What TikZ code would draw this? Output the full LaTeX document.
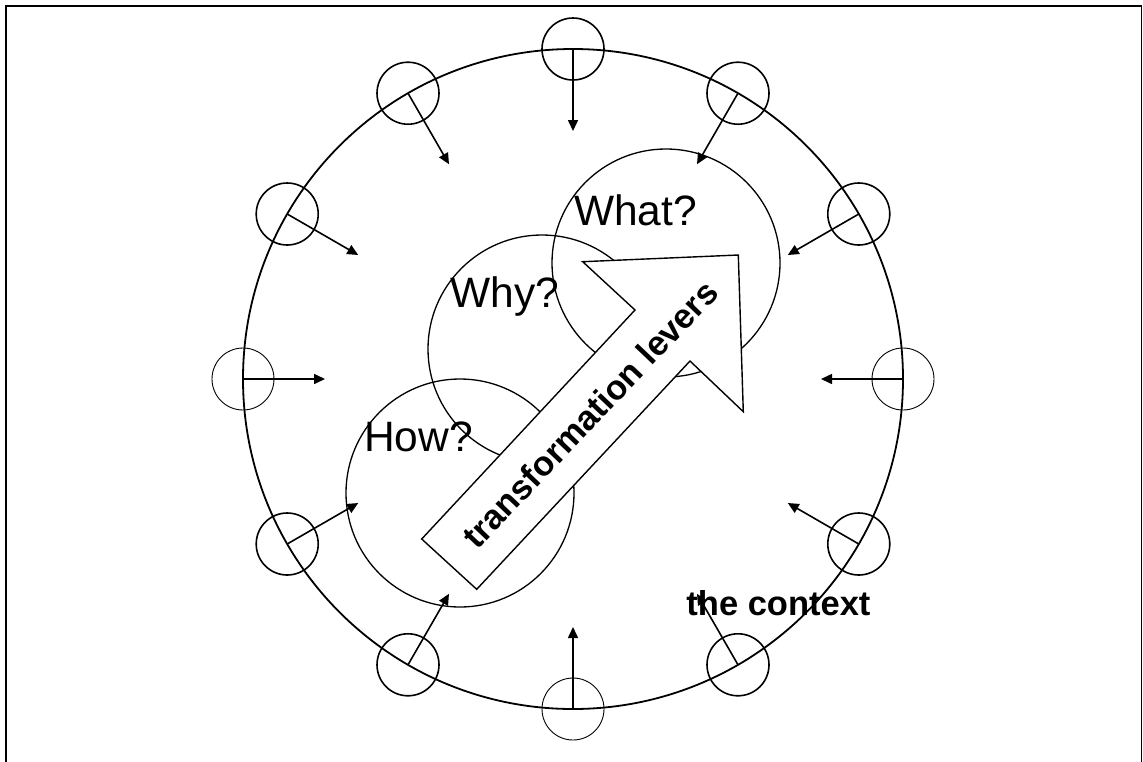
\documentclass[tikz,border=0pt]{standalone}
\usepackage{fontspec}
\setmainfont{Liberation Sans}
\usetikzlibrary{arrows.meta}
\begin{document}
\begin{tikzpicture}[x=1pt,y=-1pt,
  frame/.style={line width=1.8pt},
  ring/.style={circle,draw,line width=1.8pt,minimum size=660pt,inner sep=0pt},
  ctx/.style={circle,draw,line width=1.6pt,minimum size=62pt,inner sep=0pt},
  ctxthin/.style={ctx,line width=0.9pt},
  qcircle/.style={circle,draw,line width=1.3pt,minimum size=228pt,inner sep=0pt},
  inarrow/.style={line width=1.6pt,-{Triangle[length=11pt,width=10pt]}},
  qlabel/.style={font=\fontsize{42.5}{50}\selectfont,inner sep=0pt,anchor=base},
  boldlabel/.style={font=\bfseries\fontsize{34.5}{40}\selectfont,inner sep=0pt},
  lever/.style={draw,fill=white,line width=1.4pt,line join=miter}
]
\useasboundingbox (0,0) rectangle (1143,761);
% frame (open at the bottom)
\draw[frame] (6.3,790) -- (6.3,6.3) -- (1141.5,6.3) -- (1141.5,790);
% context ring
\node[ring] (ring) at (573,379) {};
% small context circles with inward arrows
\foreach \a in {0,30,60,120,150,210,240,300,330}{
  \node[ctx] (c\a) at ({573+330*sin(\a)},{379-330*cos(\a)}) {};
  \coordinate (t\a) at ({573+248*sin(\a)},{379-248*cos(\a)});
  \draw[inarrow] (c\a.center) -- (t\a);
}
\foreach \a in {90,180,270}{
  \node[ctxthin] (c\a) at ({573+330*sin(\a)},{379-330*cos(\a)}) {};
  \coordinate (t\a) at ({573+248*sin(\a)},{379-248*cos(\a)});
  \draw[inarrow] (c\a.center) -- (t\a);
}
% question circles
\node[qcircle] (how) at (460,493) {};
\node[qcircle] (why) at (542,349) {};
\node[qcircle] (what) at (666,263) {};
% block arrow
\draw[lever] (421.7,539) -- (635,310) -- (582.7,261.7) -- (738.3,255)
  -- (743.3,411.7) -- (690,361) -- (476.7,589.3) -- cycle;
% labels
\node[qlabel] (whatl) at (635.5,225) {What?};
\node[qlabel] (whyl) at (505,307) {Why?};
\node[qlabel] (howl) at (418.5,451.7) {How?};
\node[boldlabel,rotate=46.5] (leverl) at (590,414) {transformation levers};
\node[boldlabel,anchor=base] (context) at (778.5,615) {the context};
\end{tikzpicture}
\end{document}
